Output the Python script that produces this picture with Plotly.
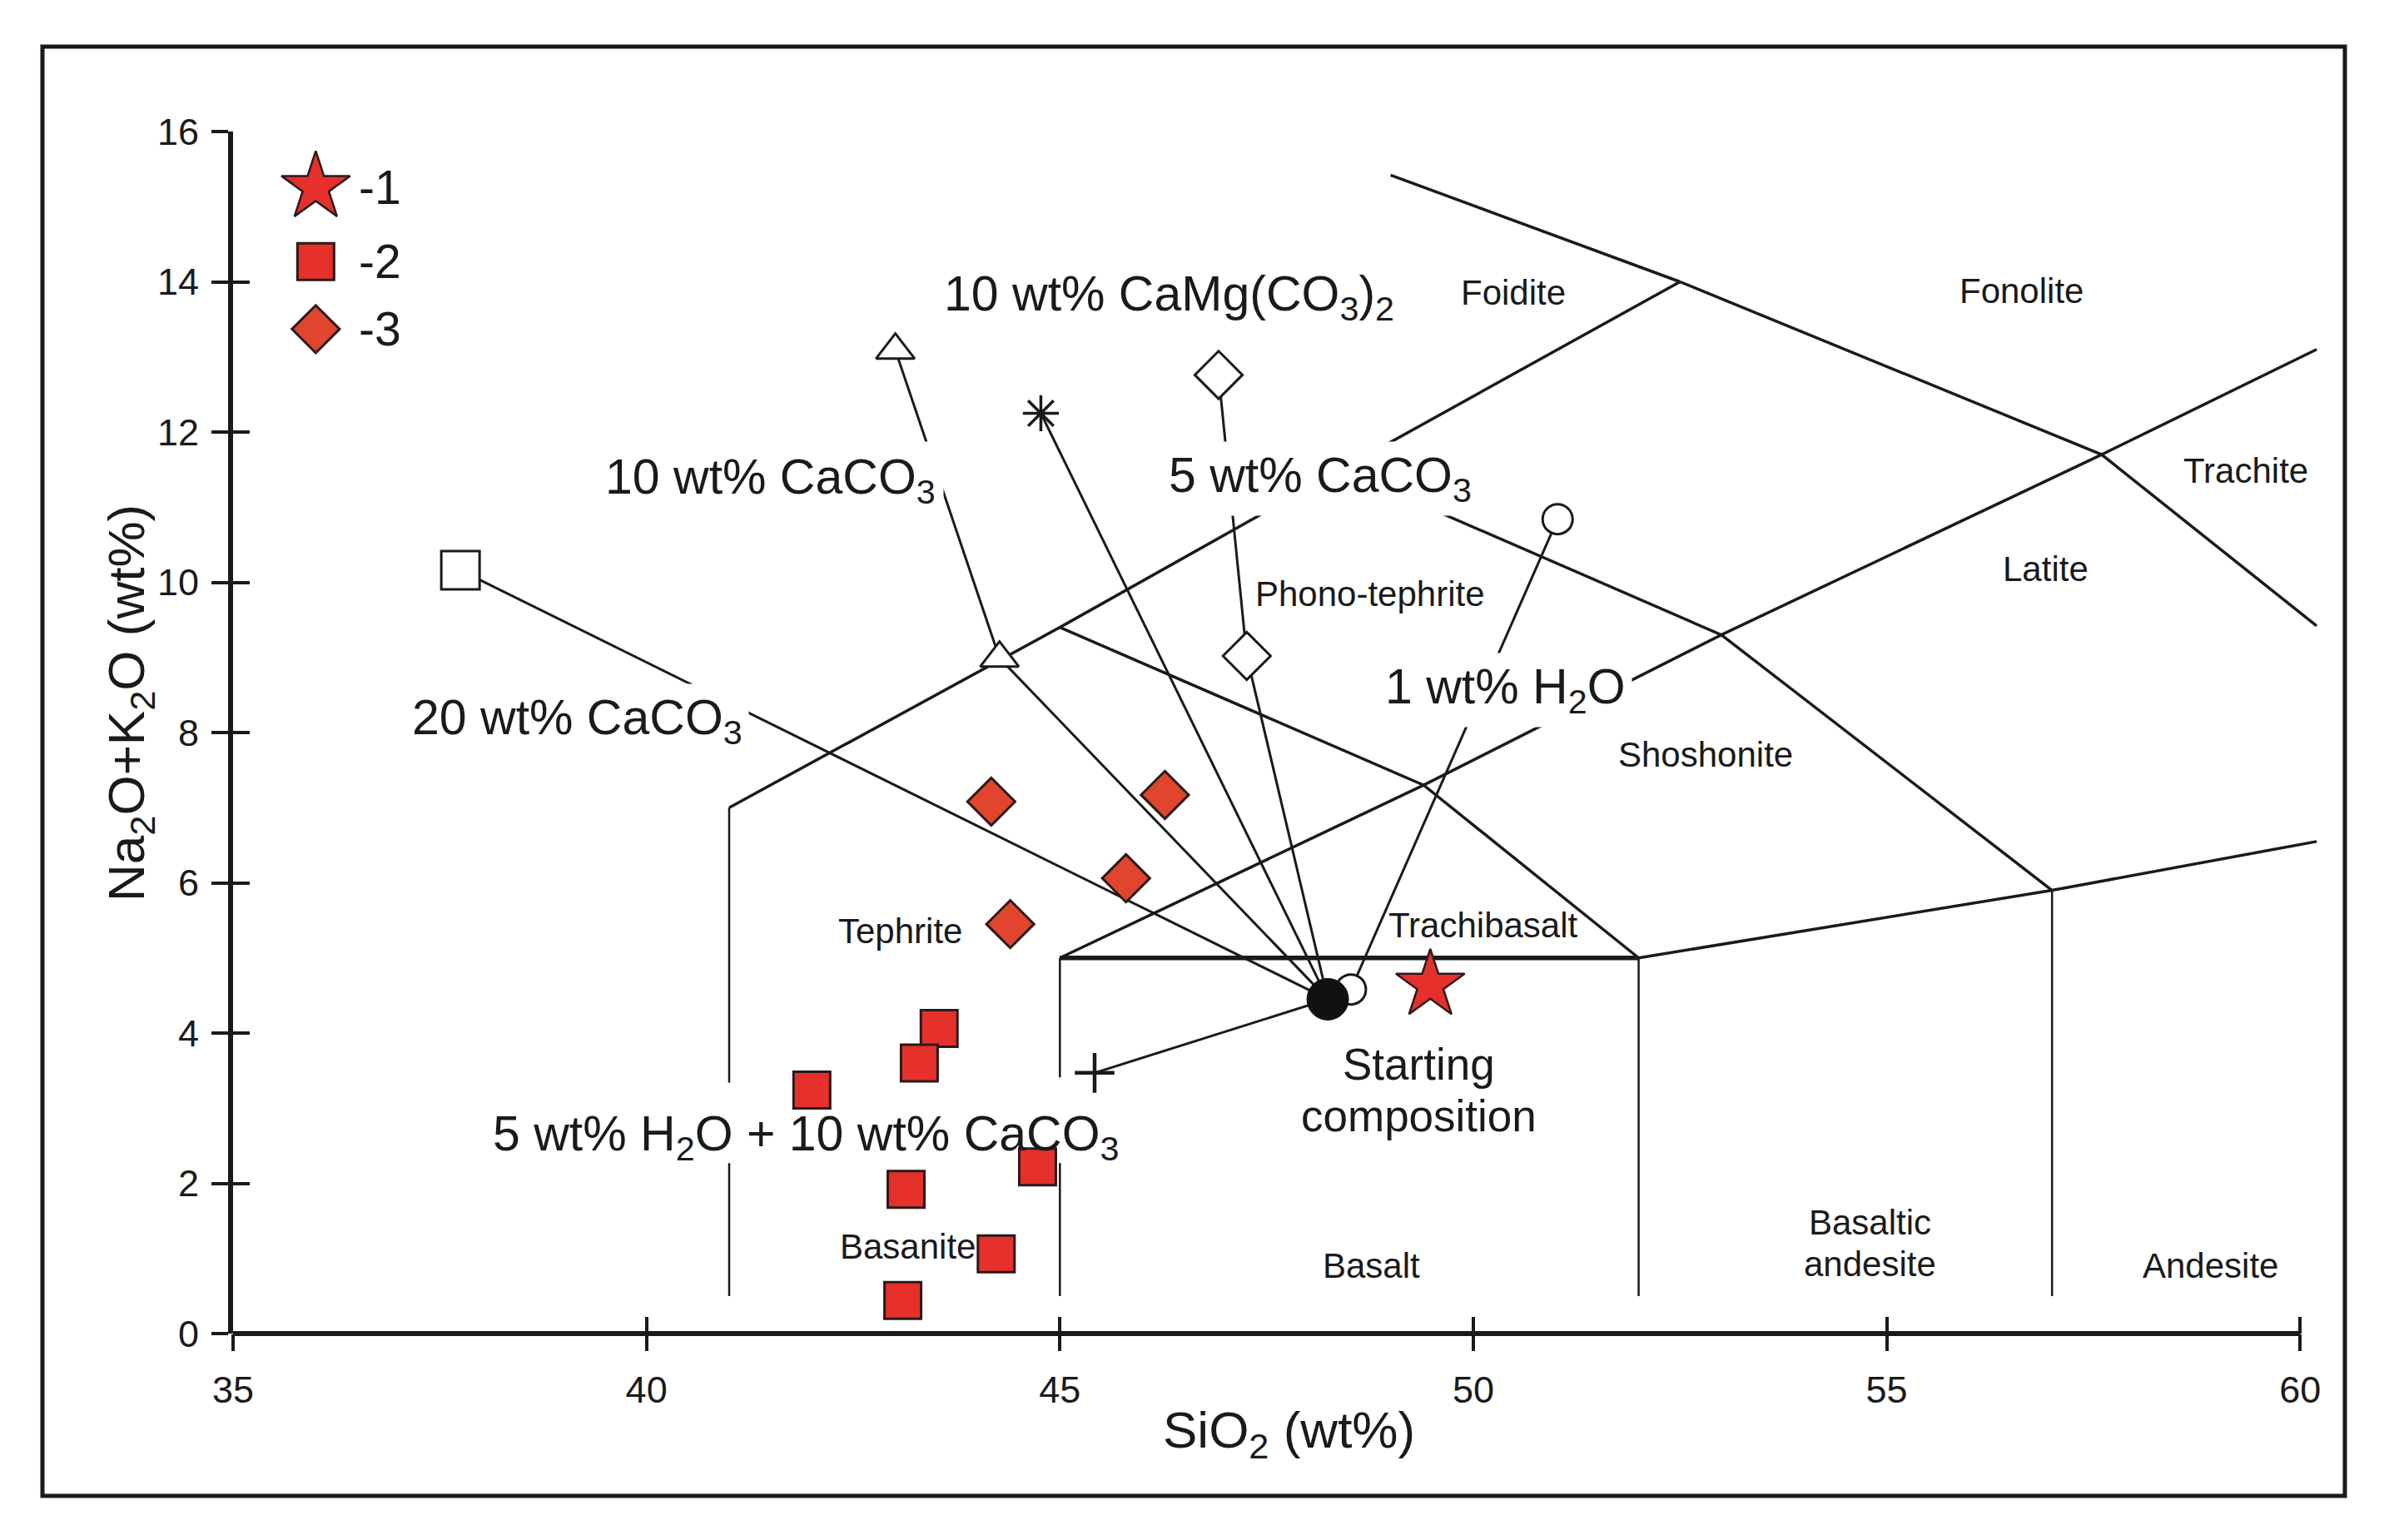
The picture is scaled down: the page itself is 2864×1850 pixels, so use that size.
import plotly.graph_objects as go

# ---------------- data (SiO2 wt%, Na2O+K2O wt%) ----------------
# TAS classification boundaries (None = gap where a label sits on the line)
v41_x, v41_y = [41, 41, None, 41, 41], [0.5, 2.27, None, 3.34, 7]
v45_x, v45_y = [45, 45, None, 45, 45], [0.5, 2.27, None, 3.41, 5]
v52_x, v52_y = [52, 52], [0.5, 5]
v57_x, v57_y = [57, 57], [0.5, 5.9]
tephrite_top_x, tephrite_top_y = [41, 45, 48.4, 52.5], [7, 9.4, 11.5, 14]
foidite_x, foidite_y = [52.5, 49.0], [14, 15.42]
phonolite_x, phonolite_y = [52.5, 57.6, 60.2], [14, 11.7, 9.42]
trachy_x, trachy_y = [45, 49.4, 53, 57.6, 60.2], [5, 7.3, 9.3, 11.7, 13.1]
phonotephrite_x, phonotephrite_y = [45, 49.4, 52], [9.4, 7.3, 5]
tephriphonolite_x, tephriphonolite_y = [48.4, 53, 57], [11.5, 9.3, 5.9]
basalt_top_x, basalt_top_y = [52, 57, 60.2], [5, 5.9, 6.55]
trachybasalt_base_x, trachybasalt_base_y = [45, 52], [5, 5]

# starting composition and modelled compositions
start_x, start_y = [48.24], [4.45]
tri_x, tri_y = [43.01, 44.27], [13.09, 8.99]          # 10 wt% CaCO3 (far, near)
dia_x, dia_y = [46.92, 47.26], [12.76, 9.02]          # 5 wt% CaCO3 (far, near)
circ_x, circ_y = [51.02, 48.52], [10.84, 4.58]        # 1 wt% H2O (far, near)
ast_x, ast_y = [44.77], [12.25]                       # 10 wt% CaMg(CO3)2
sq_x, sq_y = [37.75], [10.16]                         # 20 wt% CaCO3
plus_x, plus_y = [45.42], [3.47]                      # 5 wt% H2O + 10 wt% CaCO3

# measured samples
s1_x, s1_y = [49.48], [4.64]
s2_x = [43.54, 43.30, 42.00, 43.14, 44.73, 44.23, 43.10]
s2_y = [4.06, 3.60, 3.24, 1.92, 2.22, 1.06, 0.44]
s3_x = [44.17, 46.27, 45.80, 44.40]
s3_y = [7.08, 7.17, 6.06, 5.45]

x_ticks = [35, 40, 45, 50, 55, 60]
y_ticks = [0, 2, 4, 6, 8, 10, 12, 14, 16]
legend_labels = ["-1", "-2", "-3"]

# ---------------- layout constants ----------------
W, H = 2864, 1850
BODY = 8  # default page margin around the plot div
PL, PR, PT, PB = 280, 2793, 158, 1602   # plot area in page pixels
PW, PH = PR - PL, PB - PT
XR = [35, 60.3]
YR = [0, 16]
FONT = "Liberation Sans, Arial, Helvetica, sans-serif"
INK = "#1a1a1a"
RED = "#E5302B"
RED2 = "#E2452E"
EDGE = "#2a1a1a"


def px2paper_x(p):
    return (p - PL) / PW


def px2paper_y(p):
    return (PB - p) / PH


fig = go.Figure()


def add_line(x, y, width=3.5):
    fig.add_trace(go.Scatter(x=x, y=y, mode="lines", line=dict(color=INK, width=width),
                             connectgaps=False, showlegend=False, hoverinfo="skip"))


for xs, ys in [(v41_x, v41_y), (v45_x, v45_y), (v52_x, v52_y), (v57_x, v57_y)]:
    add_line(xs, ys, 2.5)
for xs, ys in [(tephrite_top_x, tephrite_top_y), (foidite_x, foidite_y), (phonolite_x, phonolite_y),
               (trachy_x, trachy_y), (phonotephrite_x, phonotephrite_y),
               (tephriphonolite_x, tephriphonolite_y), (basalt_top_x, basalt_top_y)]:
    add_line(xs, ys, 3.5)
add_line(trachybasalt_base_x, trachybasalt_base_y, 5.5)

# tie lines from starting composition
for xs, ys in [(tri_x, tri_y), (dia_x, dia_y), (circ_x, circ_y)]:
    add_line(start_x + xs[::-1], start_y + ys[::-1], 3)
for xs, ys in [(ast_x, ast_y), (sq_x, sq_y), (plus_x, plus_y)]:
    add_line(start_x + xs, start_y + ys, 3)


def add_marker(x, y, symbol, size, color, lc=INK, lw=3):
    fig.add_trace(go.Scatter(x=x, y=y, mode="markers", cliponaxis=False,
                             marker=dict(symbol=symbol, size=size, color=color,
                                         line=dict(color=lc, width=lw)),
                             showlegend=False, hoverinfo="skip"))


add_marker(tri_x, tri_y, "triangle-up", 40, "white")
add_marker(dia_x, dia_y, "diamond", 44, "white")
add_marker(circ_x, circ_y, "circle", 36, "white")
add_marker(sq_x, sq_y, "square", 46, "white")
add_marker(ast_x, ast_y, "asterisk-open", 36, INK, lw=3.5)
add_marker(plus_x, plus_y, "cross-thin-open", 34, INK, lw=4.5)
add_marker(start_x, start_y, "circle", 50, "#111111", lc="#111111", lw=1)

add_marker(s2_x, s2_y, "square", 44, RED, EDGE, 3)
add_marker(s3_x, s3_y, "diamond", 44, RED2, EDGE, 3)
add_marker(s1_x, s1_y, "star", 62, RED, EDGE, 2.5)

# custom legend
leg_x = 36.0
leg_y = [15.26, 14.27, 13.37]
add_marker([leg_x], [leg_y[0]], "star", 62, RED, EDGE, 2.5)
add_marker([leg_x], [leg_y[1]], "square", 44, RED, EDGE, 3)
add_marker([leg_x], [leg_y[2]], "diamond", 44, RED2, EDGE, 3)

# dummy trace for the overlaid tick axes
fig.add_trace(go.Scatter(x=[None], y=[None], xaxis="x2", yaxis="y2", showlegend=False, hoverinfo="skip"))

ann = []


def label(text, x, y, size, bg=False, anchor="center", pad=6):
    d = dict(text=text, x=x, y=y, xref="x", yref="y", showarrow=False,
             xanchor=anchor, yanchor="middle",
             font=dict(family=FONT, size=size, color=INK))
    if bg:
        d.update(bgcolor="white", borderpad=pad)
    ann.append(d)


BIG = 59
SMALL = 42
label("10 wt% CaMg(CO<sub>3</sub>)<sub>2</sub>", 46.32, 13.8, BIG, True)
label("10 wt% CaCO<sub>3</sub>", 41.5, 11.36, BIG, True, pad=9)
label("5 wt% CaCO<sub>3</sub>", 48.15, 11.38, BIG, True, pad=7)
label("20 wt% CaCO<sub>3</sub>", 39.16, 8.16, BIG, True, pad=7)
label("1 wt% H<sub>2</sub>O", 50.39, 8.56, BIG, True, pad=7)
label("5 wt% H<sub>2</sub>O + 10 wt% CaCO<sub>3</sub>", 41.93, 2.62, BIG)
label("Starting", 49.34, 3.58, 53)
label("composition", 49.34, 2.9, 53)

label("Foidite", 50.48, 13.86, SMALL)
label("Fonolite", 56.63, 13.88, SMALL)
label("Trachite", 59.34, 11.48, SMALL)
label("Latite", 56.92, 10.18, SMALL)
label("Shoshonite", 52.81, 7.71, SMALL)
label("Phono-tephrite", 48.75, 9.84, SMALL)
label("Tephrite", 43.07, 5.36, SMALL)
label("Trachibasalt", 50.12, 5.44, SMALL)
label("Basanite", 43.16, 1.16, SMALL)
label("Basalt", 48.77, 0.9, SMALL)
label("Basaltic", 54.8, 1.48, SMALL)
label("andesite", 54.8, 0.93, SMALL)
label("Andesite", 58.92, 0.9, SMALL)

for t, yy in zip(legend_labels, leg_y):
    label(t, 36.5, yy, 57, anchor="left")

# axis titles
ann.append(dict(text="SiO<sub>2</sub> (wt%)", x=px2paper_x(1548), y=px2paper_y(1722),
                xref="paper", yref="paper", showarrow=False, xanchor="center", yanchor="middle",
                font=dict(family=FONT, size=62, color=INK)))
ann.append(dict(text="Na<sub>2</sub>O+K<sub>2</sub>O (wt%)", x=px2paper_x(156), y=px2paper_y(845),
                xref="paper", yref="paper", showarrow=False, xanchor="center", yanchor="middle",
                textangle=-90, font=dict(family=FONT, size=62, color=INK)))

shapes = [
    # outer frame
    dict(type="rect", xref="paper", yref="paper",
         x0=px2paper_x(51), x1=px2paper_x(2817), y0=px2paper_y(1797), y1=px2paper_y(56),
         line=dict(color=INK, width=5), fillcolor="rgba(0,0,0,0)", layer="above"),
    # x axis line from 35 to 60
    dict(type="line", xref="paper", yref="paper",
         x0=0, x1=(60 - XR[0]) / (XR[1] - XR[0]), y0=0, y1=0,
         line=dict(color=INK, width=6), layer="above"),
]

tickfont = dict(family=FONT, size=45, color=INK)
common = dict(showgrid=False, zeroline=False, tickcolor=INK, tickwidth=4, ticklen=20)
fig_w, fig_h = W - 2 * BODY, H - 2 * BODY
fig.update_layout(
    width=fig_w, height=fig_h,
    margin=dict(l=PL - BODY, r=fig_w + BODY - PR, t=PT - BODY, b=fig_h + BODY - PB, pad=0),
    paper_bgcolor="white", plot_bgcolor="white",
    showlegend=False,
    xaxis=dict(range=XR, showline=False, ticks="outside", tickmode="array", tickvals=x_ticks,
               tickfont=tickfont, ticklabelstandoff=8, **common),
    xaxis2=dict(range=XR, overlaying="x", anchor="y", side="bottom", showline=False, ticks="inside",
                tickmode="array", tickvals=x_ticks, showticklabels=False, **common),
    yaxis=dict(range=YR, showline=True, linewidth=6, linecolor=INK, ticks="outside",
               tickmode="array", tickvals=y_ticks, tickfont=tickfont, ticklabelstandoff=6, **common),
    yaxis2=dict(range=YR, overlaying="y", anchor="x", side="left", showline=False, ticks="inside",
                tickmode="array", tickvals=y_ticks, showticklabels=False, **common),
    annotations=ann,
    shapes=shapes,
)

fig.write_html("out.html")
